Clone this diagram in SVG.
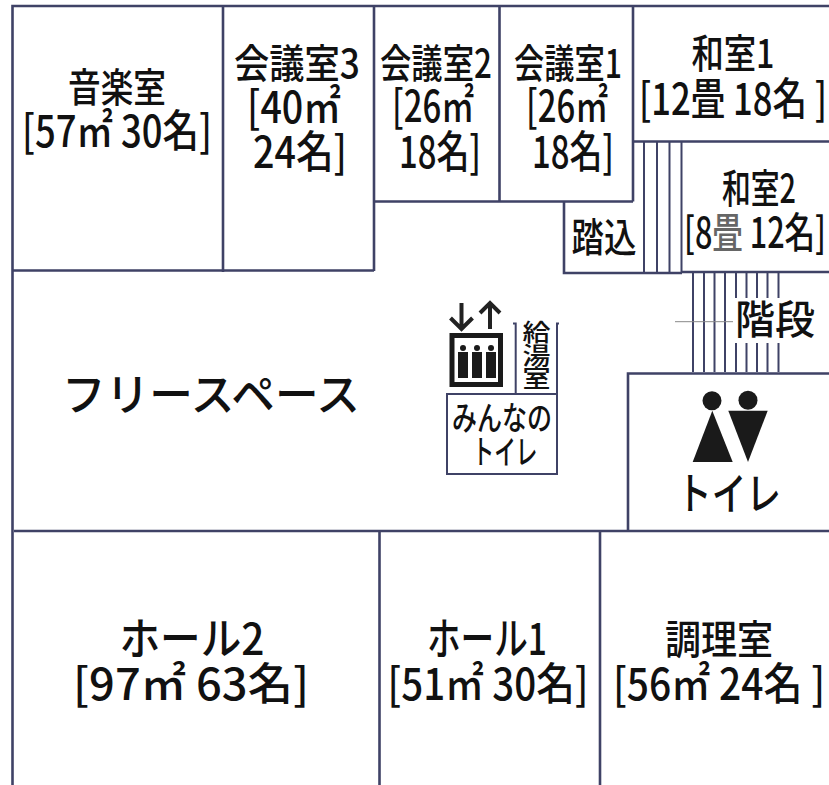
<svg xmlns="http://www.w3.org/2000/svg" width="829" height="785" viewBox="0 0 829 785">
<style>
text{font-family:"Noto Sans CJK JP","Noto Sans",sans-serif;fill:#111;text-anchor:middle;font-weight:500}
.a{font-size:42px}.b{font-size:44px}.j{font-size:40px}.c{font-size:24px}.d{font-size:33px}
.w{fill:none;stroke:#3f4266;stroke-width:2.6}
.t{fill:none;stroke:#3f4266;stroke-width:2}
.k{fill:#1a1a1a}
</style>
<rect width="829" height="785" fill="#fff"/>
<g id="walls">
<path class="w" d="M12.500 785V6H829M12.500 270.500H374M223 6V272M374 6V271M374 201.500H633M499.500 6V201M633 6V201.500M633 141.500H829M564 201V273H682M682 272H829M628 531V373.500H829M14 531H829M379.500 531V785M600 531V785"/>
<path class="t" d="M515.700 394V323.500H513M557 394V323.500H559M446 394H558M447 394V474H557V394"/>
</g>
<g id="stairs">
<path class="t" d="M644 141V273M657 141V273M669.500 141V273M681.500 141V273"/>
<path class="t" d="M693 272V372M704 272V372M714.500 272V372M725 272V372M736 272V298M746.500 272V298M757 272V298M767.500 272V298M778.500 272V298M736 343V372M746.500 343V372M757 343V372M767.500 343V372M778.500 343V372"/>
<path d="M675 321.700H733" fill="none" stroke="#888" stroke-width="1"/>
</g>
<g id="music"><text class="j" x="117" y="102" textLength="98" lengthAdjust="spacingAndGlyphs">音楽室</text><text class="b" x="117" y="147" textLength="190" lengthAdjust="spacingAndGlyphs">[57㎡ 30名]</text></g>
<g id="meeting3"><text class="j" x="297" y="78" textLength="126" lengthAdjust="spacingAndGlyphs">会議室3</text><text class="b" x="294" y="123" textLength="94" lengthAdjust="spacingAndGlyphs">[40㎡</text><text class="b" x="300" y="168" textLength="94" lengthAdjust="spacingAndGlyphs">24名]</text></g>
<g id="meeting2"><text class="j" x="436" y="78" textLength="112" lengthAdjust="spacingAndGlyphs">会議室2</text><text class="b" x="433" y="122" textLength="82" lengthAdjust="spacingAndGlyphs">[26㎡</text><text class="b" x="440" y="168" textLength="82" lengthAdjust="spacingAndGlyphs">18名]</text></g>
<g id="meeting1"><text class="j" x="568" y="78" textLength="108" lengthAdjust="spacingAndGlyphs">会議室1</text><text class="b" x="567" y="122" textLength="82" lengthAdjust="spacingAndGlyphs">[26㎡</text><text class="b" x="573" y="168" textLength="82" lengthAdjust="spacingAndGlyphs">18名]</text></g>
<g id="entry"><text class="j" x="604" y="252" textLength="65" lengthAdjust="spacingAndGlyphs">踏込</text></g>
<g id="washitsu1"><text class="j" x="733" y="68" textLength="83" lengthAdjust="spacingAndGlyphs">和室1</text><text class="b" x="733" y="115" textLength="188" lengthAdjust="spacingAndGlyphs">[12畳 18名 ]</text></g>
<g id="washitsu2"><text class="j" x="759" y="203" textLength="74" lengthAdjust="spacingAndGlyphs">和室2</text><text class="a" x="755" y="248" textLength="142" lengthAdjust="spacingAndGlyphs">[8<tspan fill="#666">畳</tspan> 12名]</text></g>
<g id="stairs-label"><text class="j" x="775" y="334" textLength="80" lengthAdjust="spacingAndGlyphs">階段</text></g>
<g id="free-space"><text class="b" x="211" y="411" textLength="298" lengthAdjust="spacingAndGlyphs">フリースペース</text></g>
<g id="elevator">
<rect x="452" y="335.500" width="48.500" height="49" fill="none" stroke="#1a1a1a" stroke-width="5"/>
<g class="k"><circle cx="463" cy="348" r="3"/><path d="M458 352H468V378H458Z"/><circle cx="477" cy="348" r="3"/><path d="M472 352H482V378H472Z"/><circle cx="491" cy="348" r="3"/><path d="M486 352H496V378H486Z"/></g>
<path d="M461.500 303V329M450.500 318L461.500 329L472.500 318M490 329V303M480 313L490 303L500 313" fill="none" stroke="#222" stroke-width="4"/>
</g>
<g id="kyuto"><text class="c" x="536.500" y="341" textLength="28" lengthAdjust="spacingAndGlyphs">給</text><text class="c" x="536.500" y="364" textLength="28" lengthAdjust="spacingAndGlyphs">湯</text><text class="c" x="536.500" y="387" textLength="28" lengthAdjust="spacingAndGlyphs">室</text></g>
<g id="accessible-toilet"><text class="d" x="502" y="430" textLength="100" lengthAdjust="spacingAndGlyphs">みんなの</text><text class="d" x="505" y="464" textLength="65" lengthAdjust="spacingAndGlyphs">トイレ</text></g>
<g id="toilet">
<g class="k"><circle cx="712" cy="400.700" r="9.500"/><path d="M712.300 410.700L732.700 462H692.700Z"/><circle cx="748" cy="400.300" r="9.500"/><path d="M728.300 410.700H767.700L748 462Z"/></g>
<text class="b" x="729" y="510" textLength="104" lengthAdjust="spacingAndGlyphs">トイレ</text>
</g>
<g id="hall2"><text class="b" x="192" y="655" textLength="145" lengthAdjust="spacingAndGlyphs">ホール2</text><text class="b" x="191" y="700" textLength="236" lengthAdjust="spacingAndGlyphs">[97㎡ 63名]</text></g>
<g id="hall1"><text class="b" x="487" y="655" textLength="120" lengthAdjust="spacingAndGlyphs">ホール1</text><text class="b" x="488" y="700" textLength="201" lengthAdjust="spacingAndGlyphs">[51㎡ 30名]</text></g>
<g id="kitchen"><text class="j" x="719" y="654" textLength="108" lengthAdjust="spacingAndGlyphs">調理室</text><text class="b" x="719" y="700" textLength="212" lengthAdjust="spacingAndGlyphs">[56㎡ 24名 ]</text></g>
</svg>
